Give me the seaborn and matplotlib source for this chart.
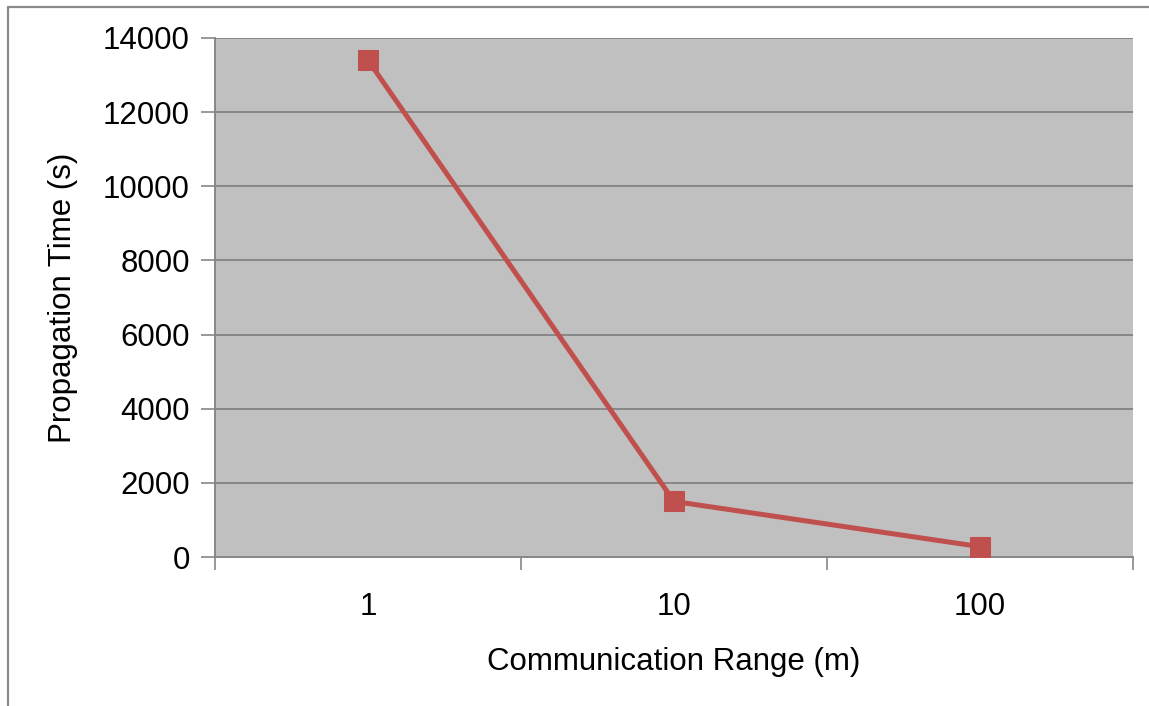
import matplotlib
matplotlib.use("Agg")
import matplotlib.pyplot as plt
from matplotlib.lines import Line2D
import seaborn as sns
import pandas as pd

# Propagation time against communication range
ranges = ["1", "10", "100"]
prop_time = [13400, 1500, 280]
y_ticks = [0, 2000, 4000, 6000, 8000, 10000, 12000, 14000]

sns.set_style("white")
plt.rcParams["font.family"] = ["Liberation Sans", "DejaVu Sans"]
plt.rcParams["text.color"] = "black"
plt.rcParams["axes.labelcolor"] = "black"
plt.rcParams["xtick.labelcolor"] = "black"
plt.rcParams["ytick.labelcolor"] = "black"

df = pd.DataFrame({"range": ranges, "time": prop_time})

fig = plt.figure(figsize=(11.49, 7.06), dpi=100)
ax = fig.add_axes([0.1871, 0.2110, 0.7990, 0.7352])
ax.set_facecolor("#C0C0C0")

sns.lineplot(data=df, x="range", y="time", ax=ax, sort=False,
             color="#C0504D", linewidth=3.6, marker="s", markersize=14,
             markeredgecolor="#C0504D", zorder=3)

ax.set_xlim(-0.5, len(ranges) - 0.5)
ax.set_ylim(0, 14000)
ax.set_yticks(y_ticks)
ax.set_yticklabels([str(v) for v in y_ticks])
ax.yaxis.grid(True, color="#878787", linewidth=1.4)
ax.set_axisbelow(True)

# category labels centred, tick marks on category boundaries
ax.set_xticks(range(len(ranges)))
ax.set_xticklabels(ranges)
ax.set_xticks([i - 0.5 for i in range(len(ranges) + 1)], minor=True)
ax.tick_params(axis="x", which="major", length=0, pad=25, labelsize=22.5)
ax.tick_params(axis="x", which="minor", length=9, width=1.2, color="#878787",
               direction="out", bottom=True)
ax.tick_params(axis="y", length=10, width=1.2, color="#878787",
               direction="out", left=True, pad=8, labelsize=22.5)

for side in ("top", "right"):
    ax.spines[side].set_visible(False)
for side in ("left", "bottom"):
    ax.spines[side].set_color("#878787")
    ax.spines[side].set_linewidth(1.4)

ax.set_xlabel("Communication Range (m)", fontsize=22.5, labelpad=18)
ax.set_ylabel("Propagation Time (s)", fontsize=22.5, labelpad=18)

# outer frame lines of the chart
fig.add_artist(Line2D([8 / 1149, 8 / 1149], [0, 1 - 6.5 / 706],
                      transform=fig.transFigure, color="#8A8A8A", linewidth=1.6))
fig.add_artist(Line2D([8 / 1149, 1], [1 - 6.5 / 706, 1 - 6.5 / 706],
                      transform=fig.transFigure, color="#8A8A8A", linewidth=1.6))

fig.savefig("out.png", dpi=100, facecolor="white")
